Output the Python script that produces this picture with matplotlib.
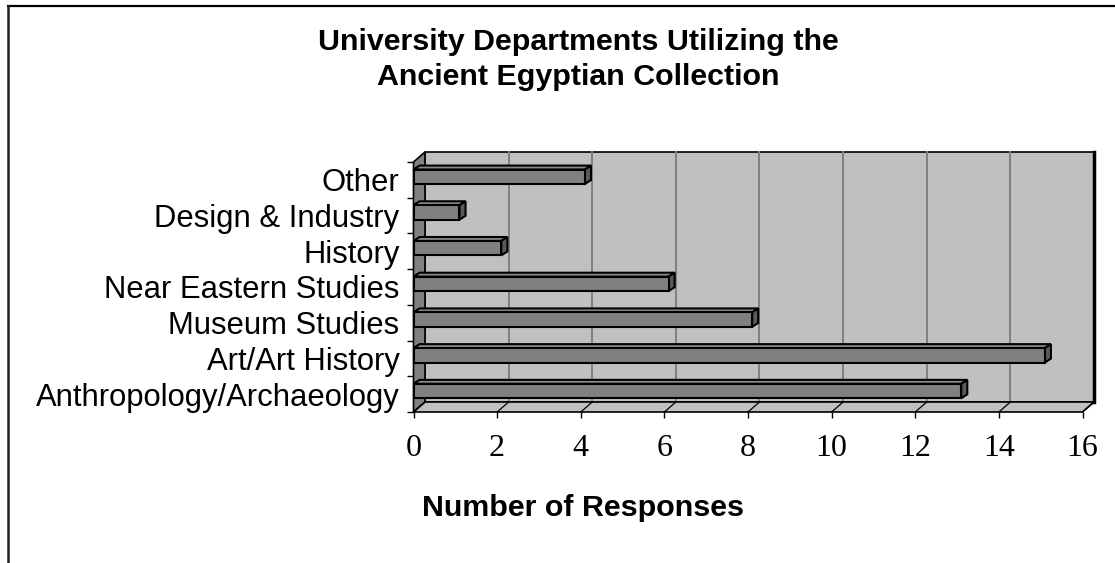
import matplotlib
matplotlib.use("Agg")
import matplotlib.pyplot as plt
from matplotlib.patches import Polygon, Rectangle
from matplotlib.lines import Line2D
import numpy as np

# data, bottom to top as drawn
departments = ["Anthropology/Archaeology", "Art/Art History", "Museum Studies",
               "Near Eastern Studies", "History", "Design & Industry", "Other"]
responses = [13, 15, 8, 6, 2, 1, 4]
x_ticks = [0, 2, 4, 6, 8, 10, 12, 14, 16]

title_1 = "University Departments Utilizing the"
title_2 = "Ancient Egyptian Collection"
x_title = "Number of Responses"

W, H = 1115, 563
fig = plt.figure(figsize=(W / 100, H / 100), dpi=100)
ax = fig.add_axes([413.5 / W, (H - 412) / H, 669 / W, 250 / H])
ax.set_xlim(0, 16)
ax.set_ylim(0, len(departments))
for s in ax.spines.values():
    s.set_visible(False)
ax.patch.set_visible(False)

# depth of the walls and of the bars (data units)
dx, dy = 0.275, 0.28
bdx, bdy = 0.145, 0.11
n = len(departments)

# back wall
ax.add_patch(Rectangle((dx, dy), 16, n, facecolor="#c0c0c0", edgecolor="black",
                       lw=1.2, clip_on=False, zorder=1))
ax.plot([16 + dx, 16 + dx], [dy, n + dy], color="black", lw=2.5, clip_on=False, zorder=1.5)
for t in x_ticks[1:-1]:
    ax.plot([t + dx, t + dx], [dy, n + dy], color="#808080", lw=1.4, clip_on=False, zorder=1.2)

# side wall
ax.add_patch(Polygon([(0, 0), (dx, dy), (dx, n + dy), (0, n)], closed=True,
                     facecolor="#808080", edgecolor="black", lw=1.2, clip_on=False, zorder=2))
# floor
ax.add_patch(Polygon([(0, 0), (16, 0), (16 + dx, dy), (dx, dy)], closed=True,
                     facecolor="#c0c0c0", edgecolor="black", lw=1.2, clip_on=False, zorder=2))
for t in x_ticks:
    ax.plot([t, t + dx], [0, dy], color="black", lw=0.9, clip_on=False, zorder=2.1)

# bars
for i, v in enumerate(responses):
    y0, y1 = i + 0.385, i + 0.79
    x1 = v + 0.1
    ax.add_patch(Polygon([(0, y1), (x1, y1), (x1 + bdx, y1 + bdy), (bdx, y1 + bdy)],
                         closed=True, facecolor="#8a8a8a", edgecolor="black", lw=1.5,
                         clip_on=False, zorder=3))
    ax.add_patch(Polygon([(x1, y0), (x1 + bdx, y0 + bdy), (x1 + bdx, y1 + bdy), (x1, y1)],
                         closed=True, facecolor="#5a5a5a", edgecolor="black", lw=1.5,
                         clip_on=False, zorder=3))
    ax.add_patch(Rectangle((0, y0), x1, y1 - y0, facecolor="#808080", edgecolor="black",
                           lw=1.5, clip_on=False, zorder=3.1))

# axes ticks and labels
ax.set_xticks(x_ticks)
ax.set_xticklabels([str(t) for t in x_ticks], fontfamily="Liberation Serif", fontsize=23)
ax.tick_params(axis="x", direction="out", length=4.5, width=1, pad=11, color="black")

ax.set_yticks(np.arange(0, n + 1))
ax.set_yticklabels([])
ax.set_yticks(np.arange(n) + 0.5, minor=True)
ax.set_yticklabels(departments, minor=True, fontfamily="Liberation Sans", fontsize=22.3)
ax.tick_params(axis="y", which="major", direction="out", length=5, width=1, color="black")
ax.tick_params(axis="y", which="minor", length=0, pad=10)

# titles
fig.text(578 / W, 1 - 42 / H, title_1, ha="center", va="center", fontfamily="Liberation Sans",
         fontweight="bold", fontsize=21.9)
fig.text(578 / W, 1 - 77 / H, title_2, ha="center", va="center", fontfamily="Liberation Sans",
         fontweight="bold", fontsize=21.9)
fig.text(583 / W, 1 - 508 / H, x_title, ha="center", va="center", fontfamily="Liberation Sans",
         fontweight="bold", fontsize=21.9)

# chart frame (top and left only are visible)
fig.add_artist(Line2D([7.5 / W, 1], [1 - 6 / H, 1 - 6 / H], color="black", lw=1.6))
fig.add_artist(Line2D([7.5 / W, 7.5 / W], [0, 1 - 6 / H], color="#222222", lw=1.8))

fig.savefig("out.png", dpi=100)
